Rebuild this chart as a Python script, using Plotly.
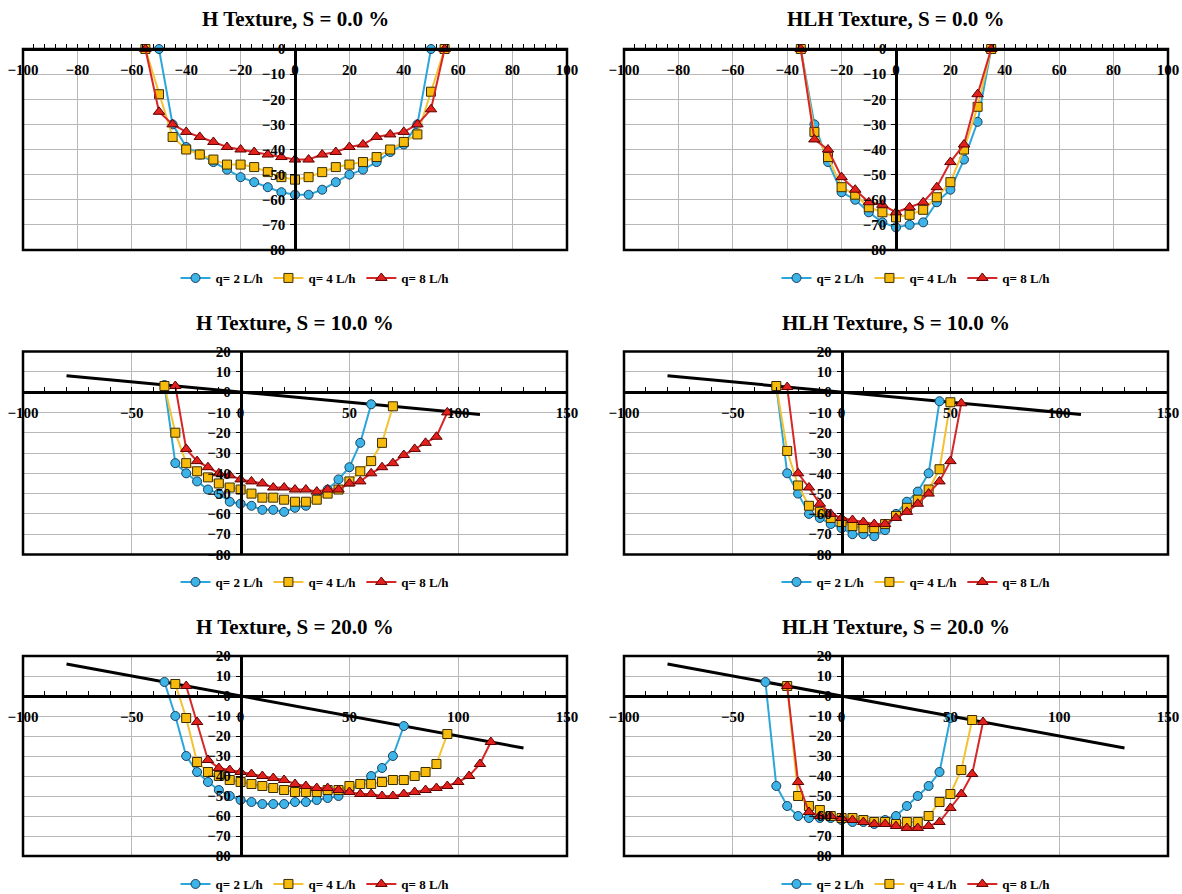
import plotly.graph_objects as go

W, H = 1182, 894

# ---------------- data ----------------
series_names = ["q= 2 L/h", "q= 4 L/h", "q= 8 L/h"]

# H texture, S = 0 %
h0_q2_x = [-50, -45, -40, -35, -30, -25, -20, -15, -10, -5, 0, 5, 10, 15, 20, 25, 30, 35, 40, 45, 50]
h0_q2_y = [0, -30, -39, -42, -45, -48, -51, -53, -55, -57, -58, -58, -56, -53, -50, -48, -45, -41, -38, -30, 0]
h0_q4_x = [-55, -50, -45, -40, -35, -30, -25, -20, -15, -10, -5, 0, 5, 10, 15, 20, 25, 30, 35, 40, 45, 50, 55]
h0_q4_y = [0, -18, -35, -40, -42, -44, -46, -46, -47, -49, -51, -52, -51, -49, -47, -46, -45, -43, -40, -37, -34, -17, 0]
h0_q8_x = [-55, -50, -45, -40, -35, -30, -25, -20, -15, -10, -5, 0, 5, 10, 15, 20, 25, 30, 35, 40, 45, 50, 55]
h0_q8_y = [0, -25, -30, -33, -35, -37, -39, -40, -41, -42, -43, -44, -44, -42, -41, -39, -38, -35, -34, -33, -30, -24, 0]

# HLH texture, S = 0 %
hlh0_x = [-35, -30, -25, -20, -15, -10, -5, 0, 5, 10, 15, 20, 25, 30, 35]
hlh0_q2_y = [0, -30, -45, -57, -60, -65, -69, -71, -70, -69, -61, -56, -44, -29, 0]
hlh0_q4_y = [0, -33, -43, -55, -58, -63, -65, -67, -66, -64, -59, -53, -40, -23, 0]
hlh0_q8_y = [0, -36, -40, -51, -56, -61, -62, -65, -63, -61, -55, -45, -38, -18, 0]

# H texture, S = 10 %
h10_q2_x = [-35, -30, -25, -20, -15, -10, -5, 0, 5, 10, 15, 20, 25, 30, 35, 40, 45, 50, 55, 60]
h10_q2_y = [3.5, -35, -40, -44, -48, -50, -54, -55, -56, -58, -58, -59, -57, -56, -52, -48, -43, -37, -25, -6]
h10_q4_x = [-35, -30, -25, -20, -15, -10, -5, 0, 5, 10, 15, 20, 25, 30, 35, 40, 45, 50, 55, 60, 65, 70]
h10_q4_y = [3, -20, -35, -39, -42, -45, -47, -48, -50, -52, -52, -53, -54, -54, -53, -50, -48, -44, -39, -34, -25, -7]
h10_q8_x = [-30, -25, -20, -15, -10, -5, 0, 5, 10, 15, 20, 25, 30, 35, 40, 45, 50, 55, 60, 65, 70, 75, 80, 85, 90, 95]
h10_q8_y = [3, -28, -34, -37, -40, -41, -43, -44, -45, -47, -47, -48, -48, -49, -48, -48, -45, -44, -40, -37, -35, -31, -28, -25, -22, -10]

# HLH texture, S = 10 %
hlh10_q2_x = [-30, -25, -20, -15, -10, -5, 0, 5, 10, 15, 20, 25, 30, 35, 40, 45]
hlh10_q2_y = [3, -40, -50, -60, -62, -65, -67, -70, -70, -71, -68, -60, -54, -49, -40, -4.5]
hlh10_q4_x = [-30, -25, -20, -15, -10, -5, 0, 5, 10, 15, 20, 25, 30, 35, 40, 45, 50]
hlh10_q4_y = [3, -29, -46, -56, -59, -62, -64, -66, -67, -67, -65, -61, -57, -53, -48, -38, -5]
hlh10_q8_x = [-25, -20, -15, -10, -5, 0, 5, 10, 15, 20, 25, 30, 35, 40, 45, 50, 55]
hlh10_q8_y = [2.5, -40, -47, -55, -60, -62, -63, -64, -65, -65, -62, -59, -55, -50, -44, -34, -5.5]

# H texture, S = 20 %
h20_q2_x = [-35, -30, -25, -20, -15, -10, -5, 0, 5, 10, 15, 20, 25, 30, 35, 40, 45, 50, 55, 60, 65, 70, 75]
h20_q2_y = [7, -10, -30, -38, -43, -47, -50, -52, -53, -54, -54, -54, -53, -53, -52, -51, -50, -47, -44, -40, -36, -30, -15]
h20_q4_x = [-30, -25, -20, -15, -10, -5, 0, 5, 10, 15, 20, 25, 30, 35, 40, 45, 50, 55, 60, 65, 70, 75, 80, 85, 90, 95]
h20_q4_y = [6, -11, -33, -38, -40, -42, -43, -44, -45, -46, -47, -48, -48, -48, -47, -47, -45, -44, -44, -43, -42, -42, -40, -38, -34, -19]
h20_q8_x = [-25, -20, -15, -10, -5, 0, 5, 10, 15, 20, 25, 30, 35, 40, 45, 50, 55, 60, 65, 70, 75, 80, 85, 90, 95, 100, 105, 110, 115]
h20_q8_y = [5, -13, -32, -36, -37, -38, -39, -40, -41, -42, -44, -45, -46, -46, -47, -48, -49, -49, -50, -50, -49, -48, -47, -46, -45, -43, -40, -34, -23]

# HLH texture, S = 20 %
hlh20_q2_x = [-35, -30, -25, -20, -15, -10, -5, 0, 5, 10, 15, 20, 25, 30, 35, 40, 45, 50]
hlh20_q2_y = [7, -45, -55, -60, -61, -61, -61, -62, -63, -63, -64, -62, -60, -55, -50, -45, -38, -11]
hlh20_q4_x = [-25, -20, -15, -10, -5, 0, 5, 10, 15, 20, 25, 30, 35, 40, 45, 50, 55, 60]
hlh20_q4_y = [5, -50, -55, -57, -60, -61, -61, -62, -63, -63, -64, -63, -63, -60, -53, -49, -37, -12]
hlh20_q8_x = [-25, -20, -15, -10, -5, 0, 5, 10, 15, 20, 25, 30, 35, 40, 45, 50, 55, 60, 65]
hlh20_q8_y = [5, -43, -58, -60, -60, -61, -62, -63, -64, -64, -65, -66, -66, -65, -63, -56, -49, -39, -13]

# soil surface lines (slope S)
ground10_x = [-80, 110]
ground10_y = [8, -11]
ground20_x = [-80, 130]
ground20_y = [16, -26]

titles = ["H Texture, S = 0.0 %", "HLH Texture, S = 0.0 %",
          "H Texture, S = 10.0 %", "HLH Texture, S = 10.0 %",
          "H Texture, S = 20.0 %", "HLH Texture, S = 20.0 %"]

# ---------------- styles ----------------
FONT = "Liberation Serif"
line_colors = ["#2BA6DB", "#F4C232", "#D62728"]
fill_colors = ["#3DB4E8", "#F7BB0E", "#E3211C"]
edge_colors = ["#1B3F5C", "#3A2E00", "#5A0000"]
symbols = ["circle", "square", "triangle-up"]
msizes = [9, 9, 10]

col_px = [(23, 567), (624, 1168)]
row_px = [(49, 250), (351.5, 554.5), (656, 856)]
title_py = [19, 323, 627]
legend_py = [278, 582, 884]

panels = [
    dict(series=[(h0_q2_x, h0_q2_y), (h0_q4_x, h0_q4_y), (h0_q8_x, h0_q8_y)],
         xr=[-100, 100], yr=[-80, 0], xdt=20, ground=None),
    dict(series=[(hlh0_x, hlh0_q2_y), (hlh0_x, hlh0_q4_y), (hlh0_x, hlh0_q8_y)],
         xr=[-100, 100], yr=[-80, 0], xdt=20, ground=None),
    dict(series=[(h10_q2_x, h10_q2_y), (h10_q4_x, h10_q4_y), (h10_q8_x, h10_q8_y)],
         xr=[-100, 150], yr=[-80, 20], xdt=50, ground=(ground10_x, ground10_y)),
    dict(series=[(hlh10_q2_x, hlh10_q2_y), (hlh10_q4_x, hlh10_q4_y), (hlh10_q8_x, hlh10_q8_y)],
         xr=[-100, 150], yr=[-80, 20], xdt=50, ground=(ground10_x, ground10_y)),
    dict(series=[(h20_q2_x, h20_q2_y), (h20_q4_x, h20_q4_y), (h20_q8_x, h20_q8_y)],
         xr=[-100, 150], yr=[-80, 20], xdt=50, ground=(ground20_x, ground20_y)),
    dict(series=[(hlh20_q2_x, hlh20_q2_y), (hlh20_q4_x, hlh20_q4_y), (hlh20_q8_x, hlh20_q8_y)],
         xr=[-100, 150], yr=[-80, 20], xdt=50, ground=(ground20_x, ground20_y)),
]

fig = go.Figure()
layout = dict(
    width=W, height=H,
    margin=dict(l=0, r=0, t=0, b=0, autoexpand=False),
    paper_bgcolor="white", plot_bgcolor="white",
    shapes=[], annotations=[],
)

tickfont = dict(family=FONT, size=15, color="black", weight="bold")

for i, p in enumerate(panels):
    r, c = divmod(i, 2)
    n = i + 1
    sfx = "" if n == 1 else str(n)
    x0p, x1p = col_px[c]
    y0p, y1p = row_px[r]
    xd = [x0p / W, x1p / W]
    yd = [1 - y1p / H, 1 - y0p / H]
    xr, yr = p["xr"], p["yr"]
    xpos = yd[0] + (0 - yr[0]) / (yr[1] - yr[0]) * (yd[1] - yd[0])
    ypos = xd[0] + (0 - xr[0]) / (xr[1] - xr[0]) * (xd[1] - xd[0])

    layout["xaxis" + sfx] = dict(
        domain=xd, range=xr, anchor="free", position=xpos, side="bottom",
        showline=True, linecolor="black", linewidth=2.5,
        ticks="inside", ticklen=4, tickwidth=1, tickcolor="black",
        dtick=p["xdt"], tick0=0,
        minor=dict(ticks="inside", ticklen=4, tickcolor="black", dtick=p["xdt"] / 5, showgrid=False),
        showgrid=True, gridcolor="#B8B8B8", gridwidth=1,
        zeroline=False, tickfont=tickfont, ticklabelstandoff=6,
        automargin=False, fixedrange=True,
    )
    layout["yaxis" + sfx] = dict(
        domain=yd, range=yr, anchor="free", position=ypos, side="left",
        showline=True, linecolor="black", linewidth=2.5,
        ticks="outside", ticklen=4, tickwidth=1, tickcolor="black",
        dtick=10, tick0=0,
        showgrid=True, gridcolor="#B8B8B8", gridwidth=1,
        zeroline=False, tickfont=tickfont, ticklabelstandoff=2,
        automargin=False, fixedrange=True,
    )
    layout["shapes"].append(dict(
        type="rect", xref="x" + sfx + " domain", yref="y" + sfx + " domain",
        x0=0, x1=1, y0=0, y1=1, line=dict(color="black", width=2.5), layer="above",
    ))
    cx = (x0p + x1p) / 2
    layout["annotations"].append(dict(
        text=titles[i], xref="paper", yref="paper", x=cx / W, y=1 - title_py[r] / H,
        xanchor="center", yanchor="middle", showarrow=False,
        font=dict(family=FONT, size=21, color="black", weight="bold"),
    ))
    leg = "legend" + sfx
    layout[leg] = dict(
        orientation="h", x=(cx + 20) / W, xanchor="center", y=1 - legend_py[r] / H, yanchor="middle",
        font=dict(family=FONT, size=13, color="black", weight="bold"),
        bgcolor="rgba(0,0,0,0)", itemwidth=30, tracegroupgap=0, traceorder="normal",
    )

    if p["ground"] is not None:
        gx, gy = p["ground"]
        fig.add_trace(go.Scatter(
            x=gx, y=gy, mode="lines", line=dict(color="black", width=3),
            showlegend=False, hoverinfo="skip", xaxis="x" + sfx, yaxis="y" + sfx,
        ))
    for k, (sx, sy) in enumerate(p["series"]):
        fig.add_trace(go.Scatter(
            x=sx, y=sy, mode="lines+markers", name=series_names[k],
            line=dict(color=line_colors[k], width=2),
            marker=dict(symbol=symbols[k], size=msizes[k], color=fill_colors[k],
                        line=dict(color=edge_colors[k], width=1)),
            xaxis="x" + sfx, yaxis="y" + sfx, legend=leg, cliponaxis=False,
        ))

fig.update_layout(**layout)
fig.write_html("out.html")
